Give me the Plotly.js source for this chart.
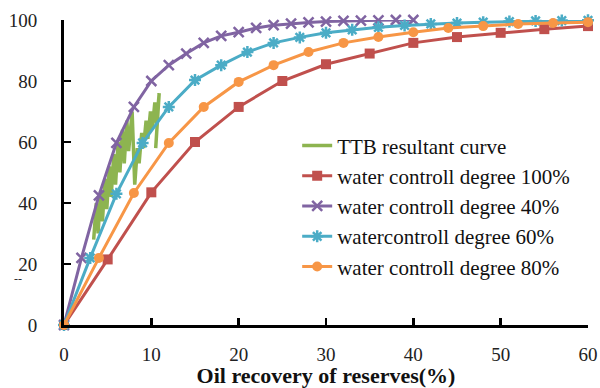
<!DOCTYPE html>
<html>
<head>
<meta charset="utf-8">
<script src="https://cdn.plot.ly/plotly-3.0.1.min.js"></script>
<style>
html,body{margin:0;padding:0;background:#fff;}
#chart{width:600px;height:388px;}
#chart .xtick text, #chart .ytick text { font-family: 'Liberation Serif', serif !important; font-size: 19px !important; }
#chart .legendtext { font-family: 'Liberation Serif', serif !important; }
</style>
</head>
<body>
<div id="chart"></div>
<script>
// TTB resultant curve (sawtooth)
var ttbX = [3.4, 3.7, 3.9, 4.2, 4.4, 4.7, 4.9, 5.2, 5.4, 5.7, 5.9, 6.2, 6.4, 6.7, 6.9, 7.2, 7.4, 7.8, 8.1,
            8.4, 8.6, 8.9, 9.1, 9.4, 9.6, 9.9, 10.1, 10.4, 10.6, 10.9, 10.5];
var ttbY = [28, 40, 30, 44, 34, 48, 38, 52, 42, 56, 46, 60, 50, 64, 53, 67, 57, 70, 46,
            58, 53, 63, 58, 67, 61, 70, 64, 73, 66, 76, 58];

// water controll degree 100%
var w100X = [0, 5, 10, 15, 20, 25, 30, 35, 40, 45, 50, 55, 60];
var w100Y = [0, 21.5, 43.5, 60, 71.5, 80, 85.5, 89, 92.5, 94.4, 95.8, 97, 98];

// water controll degree 40%
var w40X = [0, 2, 4, 6, 8, 10, 12, 14, 16, 18, 20, 22, 24, 26, 28, 30, 32, 34, 36, 38, 40];
var w40Y = [0, 22, 42.5, 59.7, 71.5, 80, 85.2, 89, 92.5, 94.8, 96, 97.4, 98.3, 98.8, 99.2, 99.5, 99.7, 99.8, 99.9, 100, 100];

// watercontroll degree 60%
var w60X = [0, 3, 6, 9, 12, 15, 18, 21, 24, 27, 30, 33, 36, 39, 42, 45, 48, 51, 54, 57, 60];
var w60Y = [0, 22, 43, 59.7, 71.5, 80.3, 85.2, 89.5, 92.5, 94.3, 95.8, 96.8, 97.6, 98.2, 98.7, 99, 99.3, 99.5, 99.7, 99.8, 99.9];

// water controll degree 80%
var w80X = [0, 4, 8, 12, 16, 20, 24, 28, 32, 36, 40, 44, 48, 52, 56, 60];
var w80Y = [0, 22, 43.3, 59.7, 71.5, 79.7, 85.2, 89.5, 92.5, 94.4, 96, 97.4, 98, 98.7, 99, 99.3];

// tick labels
var xTicks = [0, 10, 20, 30, 40, 50, 60];
var yTicks = [0, 20, 40, 60, 80, 100];

var names = ["TTB resultant curve", "water controll degree 100%", "water controll degree 40%", "watercontroll degree 60%", "water controll degree 80%"];

var traces = [
  {x: ttbX, y: ttbY, name: names[0], mode: 'lines', legendgroup: 'a',
   line: {color: '#8DB450', width: 3.5}, cliponaxis: false},
  {x: w100X, y: w100Y, name: names[1], mode: 'lines+markers', legendgroup: 'b',
   line: {color: '#C0504D', width: 3}, marker: {symbol: 'square', size: 10, color: '#C0504D'}, cliponaxis: false},
  {x: w40X, y: w40Y, name: names[2], mode: 'lines+markers', legendgroup: 'c',
   line: {color: '#8064A2', width: 3}, marker: {symbol: 'x-thin-open', size: 10, line: {color: '#8064A2', width: 2.5}}, cliponaxis: false},
  {x: w60X, y: w60Y, name: names[3], mode: 'lines+markers', legendgroup: 'd',
   line: {color: '#4BACC6', width: 3}, marker: {symbol: 'asterisk-open', size: 10, line: {color: '#4BACC6', width: 2.5}}, cliponaxis: false},
  {x: w80X, y: w80Y, name: names[4], mode: 'lines+markers', legendgroup: 'e',
   line: {color: '#F79646', width: 3}, marker: {symbol: 'circle', size: 10, color: '#F79646'}, cliponaxis: false}
];

var serif = 'Liberation Serif';

var layout = {
  width: 600, height: 388,
  margin: {l: 64, r: 12, t: 20, b: 63},
  paper_bgcolor: '#fff', plot_bgcolor: '#fff',
  font: {family: serif, size: 19, color: '#222'},
  showlegend: true,
  legend: {x: 0.445, y: 0.655, xanchor: 'left', yanchor: 'top', bgcolor: 'rgba(0,0,0,0)',
    font: {family: serif, size: 21, color: '#111'}, traceorder: 'grouped', tracegroupgap: 0, itemwidth: 30},
  xaxis: {range: [xTicks[0], xTicks[xTicks.length - 1]], tickmode: 'linear', tick0: xTicks[0], dtick: xTicks[1] - xTicks[0],
    showgrid: false, zeroline: false,
    showline: true, linecolor: '#000', linewidth: 3, ticks: 'inside', ticklen: 7, tickwidth: 2.5, tickcolor: '#000',
    tickfont: {family: serif, size: 19, color: '#222'}, ticklabelstandoff: 10,
    title: {text: '<b>Oil recovery of reserves(%)</b>', font: {family: serif, size: 22, color: '#111'}, standoff: 0}},
  yaxis: {range: [yTicks[0], yTicks[yTicks.length - 1]], tickmode: 'linear', tick0: yTicks[0], dtick: yTicks[1] - yTicks[0],
    showgrid: false, zeroline: false,
    showline: true, linecolor: '#000', linewidth: 3, ticks: 'inside', ticklen: 7, tickwidth: 2.5, tickcolor: '#000',
    tickfont: {family: serif, size: 19, color: '#222'}, ticklabelstandoff: 20},
  annotations: [
    {xref: 'paper', yref: 'paper', x: -0.1, y: 0.12, text: '--', showarrow: false,
     font: {family: serif, size: 12, color: '#333'}}
  ]
};

Plotly.newPlot('chart', traces, layout, {displayModeBar: false, staticPlot: true});
</script>
</body>
</html>
